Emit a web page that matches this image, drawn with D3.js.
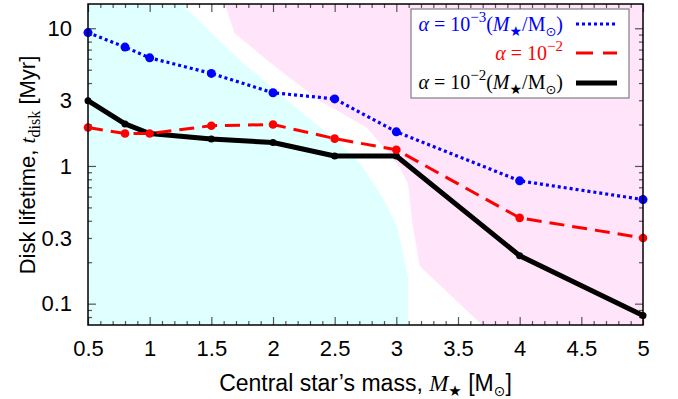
<!DOCTYPE html>
<html>
<head>
<meta charset="utf-8">
<script src="https://cdn.jsdelivr.net/npm/d3@7"></script>
<style>
  body { margin: 0; background: #fff; }
  svg { display: block; }
  .sans { font-family: "Liberation Sans", Arial, Helvetica, sans-serif; }
  .serif { font-family: "Liberation Serif", "Times New Roman", serif; }
</style>
</head>
<body>
<div id="chart"></div>
<script>
// central star mass [Msun]
var masses = [0.5, 0.8, 1, 1.5, 2, 2.5, 3, 4, 5];
// disk lifetime [Myr]
var tBlue  = [9.3, 7.3, 6.1, 4.7, 3.4, 3.07, 1.77, 0.78, 0.57];
var tRed   = [1.9, 1.72, 1.72, 1.96, 2.0, 1.58, 1.31, 0.42, 0.30];
var tBlack = [2.98, 2.02, 1.72, 1.57, 1.48, 1.18, 1.18, 0.223, 0.082];

// shaded regions (mass, t)
var cyanRegion = [[0.5, 15], [1.26, 15], [1.71, 6.1], [2.22, 2.5], [2.49, 1.6],
  [2.71, 1.04], [2.89, 0.587], [3.01, 0.356], [3.095, 0.154], [3.095, 0.07], [0.5, 0.07]];
var pinkRegion = [[1.61, 15], [1.69, 9.15], [2.06, 4.92], [2.38, 2.98], [2.76, 1.9],
  [2.92, 1.29], [3.03, 0.97], [3.095, 0.743], [3.127, 0.399], [3.19, 0.188],
  [3.695, 0.07], [5, 0.07], [5, 15]];

var xLabels = [0.5, 1, 1.5, 2, 2.5, 3, 3.5, 4, 4.5, 5];
var yLabels = [0.1, 0.3, 1, 3, 10];
var yMajor = [0.1, 1, 10];
var yMinor = [0.08, 0.09, 0.2, 0.3, 0.4, 0.5, 0.6, 0.7, 0.8, 0.9,
              2, 3, 4, 5, 6, 7, 8, 9];
var xMinor = d3.range(5, 51).map(function(d){ return d / 10; })
               .filter(function(d){ return Math.abs(d * 2 - Math.round(d * 2)) > 1e-6; });

var width = 678, height = 399;
var pL = 88, pR = 643, pT = 4, pB = 325;

var svg = d3.select("#chart").append("svg")
  .attr("width", width)
  .attr("height", height);

var x = d3.scaleLinear().domain([0.5, 5]).range([pL, pR]);
var y = d3.scaleLog().domain([0.07, 15]).range([pB, pT]);

svg.append("clipPath").attr("id", "clip")
  .append("rect")
  .attr("x", pL).attr("y", pT)
  .attr("width", pR - pL).attr("height", pB - pT);

var plot = svg.append("g").attr("clip-path", "url(#clip)");

var area = d3.line()
  .x(function(d){ return x(d[0]); })
  .y(function(d){ return y(d[1]); });

plot.append("path").attr("d", area(cyanRegion) + "Z").attr("fill", "#e0ffff");
plot.append("path").attr("d", area(pinkRegion) + "Z").attr("fill", "#ffe4fa");

// ticks, all inward
function tickAxis(axis, vals, size, transform) {
  var g = svg.append("g")
    .attr("transform", transform)
    .call(axis.tickValues(vals).tickSize(size).tickFormat(""));
  g.select(".domain").remove();
  g.selectAll("line").attr("stroke", "#555").attr("stroke-width", 1.2);
}
tickAxis(d3.axisBottom(x), xLabels, -8, "translate(0," + pB + ")");
tickAxis(d3.axisBottom(x), xMinor, -4, "translate(0," + pB + ")");
tickAxis(d3.axisTop(x), xLabels, -8, "translate(0," + pT + ")");
tickAxis(d3.axisTop(x), xMinor, -4, "translate(0," + pT + ")");
tickAxis(d3.axisLeft(y), yMajor, -8, "translate(" + pL + ",0)");
tickAxis(d3.axisLeft(y), yMinor, -4, "translate(" + pL + ",0)");
tickAxis(d3.axisRight(y), yMajor, -8, "translate(" + pR + ",0)");
tickAxis(d3.axisRight(y), yMinor, -4, "translate(" + pR + ",0)");

// tick labels
var xl = svg.append("g")
  .attr("transform", "translate(0," + pB + ")")
  .call(d3.axisBottom(x).tickValues(xLabels).tickSize(0).tickPadding(15)
        .tickFormat(function(d){ return String(d); }));
xl.select(".domain").remove();
xl.selectAll("text").attr("class", "sans").attr("font-size", 22).attr("fill", "#000");

var yl = svg.append("g")
  .attr("transform", "translate(" + pL + ",0)")
  .call(d3.axisLeft(y).tickValues(yLabels).tickSize(0).tickPadding(16)
        .tickFormat(function(d){ return String(d); }));
yl.select(".domain").remove();
yl.selectAll("text").attr("class", "sans").attr("font-size", 22).attr("fill", "#000");

// series
var line = d3.line()
  .x(function(d){ return x(d[0]); })
  .y(function(d){ return y(d[1]); });

var series = [
  { t: tBlack, color: "#000", width: 5, dash: null, r: 3.5 },
  { t: tRed, color: "#ff0000", width: 3, dash: "15,8", r: 4.3 },
  { t: tBlue, color: "#0000ff", width: 3.2, dash: "3,3", r: 4.5 }
];

series.forEach(function(s) {
  var pts = masses.map(function(m, i){ return [m, s.t[i]]; });
  svg.append("path")
    .attr("d", line(pts))
    .attr("fill", "none")
    .attr("stroke", s.color)
    .attr("stroke-width", s.width)
    .attr("stroke-linejoin", "round")
    .attr("stroke-dasharray", s.dash);
  svg.selectAll(null)
    .data(pts)
    .enter()
    .append("circle")
      .attr("cx", function(d){ return x(d[0]); })
      .attr("cy", function(d){ return y(d[1]); })
      .attr("r", s.r)
      .style("fill", s.color);
});

// frame
svg.append("rect")
  .attr("x", pL).attr("y", pT)
  .attr("width", pR - pL).attr("height", pB - pT)
  .attr("fill", "none").attr("stroke", "#000").attr("stroke-width", 1.5);

// legend
svg.append("rect")
  .attr("x", 411).attr("y", 9).attr("width", 218).attr("height", 89)
  .attr("fill", "#fff").attr("stroke", "#666").attr("stroke-width", 1);

function alphaText(g, yy, color, exp, ratio) {
  var t = g.append("text")
    .attr("class", "serif")
    .attr("x", 563).attr("y", yy)
    .attr("text-anchor", "end")
    .attr("font-size", 20)
    .attr("fill", color);
  t.append("tspan").attr("font-style", "italic").text("\u03b1");
  t.append("tspan").text(" = 10");
  t.append("tspan").attr("dy", -9).attr("font-size", 15).text("\u2212" + exp);
  t.append("tspan").attr("dy", 9).text(ratio ? "(" : "");
  if (ratio) {
    t.append("tspan").attr("font-style", "italic").text("M");
    t.append("tspan").attr("dy", 5).attr("font-size", 14).attr("font-family", "DejaVu Sans").text("\u2605");
    t.append("tspan").attr("dy", -5).text("/M");
    t.append("tspan").attr("dy", 5).attr("font-size", 13).attr("font-family", "DejaVu Sans").text("\u2299");
    t.append("tspan").attr("dy", -5).text(")");
  }
}
var lg = svg.append("g");
alphaText(lg, 31, "#0000ff", "3", true);
alphaText(lg, 60, "#ff0000", "2", false);
alphaText(lg, 89, "#000", "2", true);

var legendRows = [
  { yy: 24, color: "#0000ff", width: 3.2, dash: "3,3" },
  { yy: 53, color: "#ff0000", width: 3, dash: "17,10" },
  { yy: 83, color: "#000", width: 5, dash: null }
];
legendRows.forEach(function(r) {
  lg.append("line")
    .attr("x1", 576).attr("x2", 617)
    .attr("y1", r.yy).attr("y2", r.yy)
    .attr("stroke", r.color)
    .attr("stroke-width", r.width)
    .attr("stroke-dasharray", r.dash);
});

// axis titles
var xt = svg.append("text")
  .attr("class", "sans")
  .attr("x", (pL + pR) / 2).attr("y", 391)
  .attr("text-anchor", "middle")
  .attr("font-size", 23);
xt.append("tspan").text("Central star\u2019s mass, ");
xt.append("tspan").attr("class", "serif").attr("font-style", "italic").text("M");
xt.append("tspan").attr("dy", 5).attr("font-size", 15).attr("font-family", "DejaVu Sans").text("\u2605");
xt.append("tspan").attr("dy", -5).text(" [M");
xt.append("tspan").attr("dy", 5).attr("font-size", 14).attr("font-family", "DejaVu Sans").text("\u2299");
xt.append("tspan").attr("dy", -5).text("]");

var yt = svg.append("text")
  .attr("class", "sans")
  .attr("transform", "translate(35,165) rotate(-90)")
  .attr("text-anchor", "middle")
  .attr("font-size", 22);
yt.append("tspan").text("Disk lifetime, ");
yt.append("tspan").attr("class", "serif").attr("font-style", "italic").text("t");
yt.append("tspan").attr("class", "serif").attr("dy", 5).attr("font-size", 16).text("disk");
yt.append("tspan").attr("dy", -5).text(" [Myr]");
</script>
</body>
</html>
